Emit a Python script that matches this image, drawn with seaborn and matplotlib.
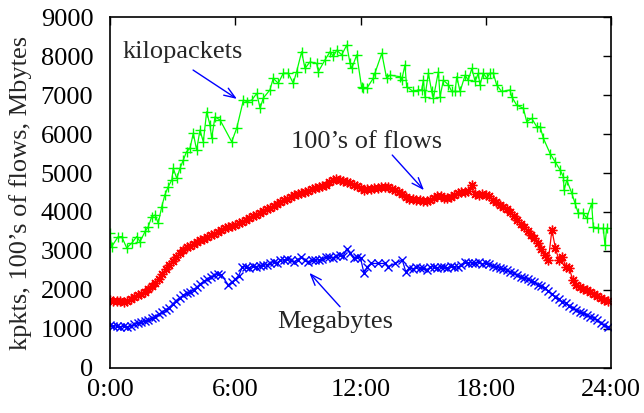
import numpy as np
import pandas as pd
import matplotlib
matplotlib.use("Agg")
import matplotlib.pyplot as plt
import seaborn as sns

# ---------------- data ----------------
# kilopackets (green, '+')
kpkt_hours = [0.00, 0.08, 0.38, 0.56, 0.80, 1.04, 1.28, 1.44, 1.68, 1.83,
              2.00, 2.16, 2.31, 2.48, 2.63, 2.79, 2.96, 3.03, 3.20, 3.35,
              3.51, 3.67, 3.83, 3.99, 4.15, 4.31, 4.47, 4.63, 4.79, 4.87,
              5.03, 5.27, 5.83, 6.07, 6.39, 6.55, 6.79, 7.03, 7.19, 7.34,
              7.66, 7.82, 8.06, 8.30, 8.54, 8.78, 8.94, 9.18, 9.34, 9.58,
              9.90, 9.98, 10.30, 10.54, 10.70, 10.86, 11.10, 11.34, 11.50, 11.58,
              11.82, 12.05, 12.13, 12.30, 12.61, 12.69, 13.02, 13.25, 13.41, 13.89,
              13.97, 14.13, 14.21, 14.53, 14.77, 14.93, 15.01, 15.09, 15.25, 15.41,
              15.49, 15.73, 15.81, 15.97, 16.21, 16.37, 16.53, 16.61, 16.77, 17.01,
              17.16, 17.33, 17.49, 17.64, 17.72, 17.88, 18.05, 18.20, 18.36, 18.52,
              18.76, 19.16, 19.24, 19.48, 19.80, 19.96, 20.20, 20.44, 20.60, 20.76,
              21.08, 21.32, 21.56, 21.72, 21.75, 21.88, 22.12, 22.28, 22.43, 22.67,
              22.83, 23.07, 23.15, 23.39, 23.63, 23.71, 23.79]
kpkt_values = [3460, 3110, 3360, 3370, 3080, 3200, 3370, 3240, 3500, 3620,
               3880, 3920, 3710, 4140, 4440, 4650, 4820, 5120, 4860, 5120,
               5330, 5550, 5630, 6020, 5590, 6100, 5800, 6570, 6230, 5890,
               6440, 6360, 5800, 6150, 6870, 6830, 6870, 7040, 6660, 6920,
               7130, 7430, 7300, 7560, 7560, 7300, 7600, 8110, 7680, 7850,
               7810, 7600, 7900, 8110, 7990, 8150, 8030, 8280, 7810, 7680,
               8030, 7210, 7170, 7170, 7430, 7560, 8070, 7430, 7510, 7470,
               7380, 7770, 7210, 7090, 7130, 7130, 7380, 6960, 7560, 7090,
               6920, 7600, 6960, 7380, 7260, 7090, 7090, 7470, 7090, 7510,
               7380, 7680, 7350, 7560, 7260, 7560, 7430, 7560, 7560, 7260,
               7090, 7130, 6960, 6740, 6660, 6320, 6400, 6190, 6190, 5890,
               5500, 5290, 5080, 4900, 4560, 4820, 4480, 4220, 3970, 3970,
               3840, 4220, 3620, 3580, 3580, 3150, 3580]

# 10-minute sampling for flows and megabytes
grid_hours = [h + m / 6 for h in range(24) for m in range(6)]

# 100's of flows (red, '*')
flow_values = [1740, 1720, 1710, 1730, 1700, 1720,
               1770, 1820, 1860, 1900, 1960, 2020,
               2100, 2170, 2290, 2410, 2530, 2640,
               2740, 2840, 2940, 3030, 3090, 3140,
               3180, 3220, 3270, 3320, 3360, 3400,
               3440, 3490, 3530, 3580, 3610, 3640,
               3670, 3710, 3750, 3790, 3840, 3890,
               3930, 3980, 4020, 4070, 4110, 4160,
               4210, 4250, 4300, 4340, 4390, 4430,
               4460, 4490, 4520, 4550, 4580, 4610,
               4640, 4660, 4700, 4760, 4820, 4850,
               4820, 4790, 4770, 4740, 4700, 4660,
               4610, 4570, 4580, 4600, 4610, 4620,
               4640, 4630, 4650, 4600, 4560, 4510,
               4450, 4390, 4340, 4330, 4310, 4300,
               4290, 4270, 4300, 4360, 4420, 4420,
               4370, 4350, 4390, 4430, 4480, 4500,
               4510, 4530, 4680, 4470, 4440, 4450,
               4440, 4400, 4320, 4250, 4180, 4120,
               4070, 3990, 3890, 3800, 3700, 3610,
               3520, 3420, 3340, 3210, 3050, 2900,
               2770, 3540, 3080, 2770, 2850, 2600,
               2570, 2250, 2120, 2070, 2030, 1990,
               1940, 1900, 1850, 1800, 1750, 1710]

# Megabytes (blue, 'x'); NaN = missing sample
nan = np.nan
mbyte_values = [1100, 1070, 1080, 1060, 1070, 1050,
                1080, 1120, 1150, 1170, 1200, 1230,
                1270, 1320, 1380, 1430, 1490, 1550,
                1640, 1730, 1800, 1860, 1910, 1960,
                2010, 2080, 2160, 2220, 2280, 2330,
                2380, 2420, 2390, nan, 2130, 2200,
                2280, 2370, 2580, 2600, 2570, 2620,
                2600, 2620, 2650, 2640, 2690, 2730,
                2700, 2760, 2770, 2790, 2760, 2730,
                2780, 2850, 2760, 2730, 2760, 2770,
                2770, 2800, 2840, 2850, 2820, 2880,
                2900, 2870, 3050, 2950, 2810, 2850,
                2820, 2430, 2600, 2680, nan, 2680,
                nan, 2680, 2600, nan, 2680, nan,
                2770, 2470, 2560, 2540, 2580, 2560,
                2560, 2520, 2580, 2600, 2570, 2600,
                2600, 2560, 2620, 2600, 2580, 2640,
                2730, 2690, 2700, 2680, 2720, 2670,
                2680, 2660, 2620, 2600, 2560, 2540,
                2510, 2470, 2430, 2390, 2340, 2300,
                2280, 2240, 2210, 2140, 2090, 2040,
                1970, 1900, 1830, 1760, 1690, 1660,
                1600, 1530, 1490, 1440, 1400, 1360,
                1320, 1270, 1230, 1160, 1100, 1050]

x_ticks = [0, 6, 12, 18, 24]
x_tick_labels = ["0:00", "6:00", "12:00", "18:00", "24:00"]
y_ticks = [0, 1000, 2000, 3000, 4000, 5000, 6000, 7000, 8000, 9000]

# ---------------- plot ----------------
sns.set_style("white")
plt.rcParams["font.family"] = ["Liberation Serif", "DejaVu Serif"]

FS = 19
fig = plt.figure(figsize=(6.44, 4.13), dpi=100)
ax = fig.add_axes([0.1708, 0.1090, 0.7780, 0.8498])

kp = pd.DataFrame({"h": kpkt_hours, "v": kpkt_values})
fl = pd.DataFrame({"h": grid_hours, "v": flow_values}).dropna()
mb = pd.DataFrame({"h": grid_hours, "v": mbyte_values}).dropna()

sns.lineplot(data=kp, x="h", y="v", ax=ax, color="#00ff00", linewidth=0.9,
             marker="+", markersize=7, mec="#00ff00", mew=1.0, sort=False)
sns.lineplot(data=fl, x="h", y="v", ax=ax, color="#ff0000", linewidth=0.9,
             marker=(8, 2, 0), markersize=7, mec="#ff0000", mew=1.0, sort=False)
sns.lineplot(data=mb, x="h", y="v", ax=ax, color="#0000ff", linewidth=0.9,
             marker="x", markersize=6, mec="#0000ff", mew=1.0, sort=False)

ax.set_xlim(0, 24)
ax.set_ylim(0, 9000)
ax.set_xticks(x_ticks)
ax.set_xticklabels(x_tick_labels)
ax.set_yticks(y_ticks)
ax.set_xlabel("")
ax.set_ylabel("kpkts, 100\u2019s of flows, Mbytes", fontsize=FS, labelpad=6)
ax.tick_params(direction="in", length=6, width=1, top=True, right=True,
               labelsize=FS, colors="black")
ax.tick_params(axis="y", pad=12)
ax.tick_params(axis="x", pad=8)
for s in ax.spines.values():
    s.set_visible(True)
    s.set_color("black")
    s.set_linewidth(1.2)

arrow = dict(arrowstyle="->,head_length=0.8,head_width=0.3", color="#0000ff",
             lw=1.0, shrinkA=0, shrinkB=0)
ax.annotate("kilopackets", xy=(6.08, 6900), xytext=(3.5, 8100),
            fontsize=FS, ha="center", va="center")
ax.annotate("", xy=(6.08, 6900), xytext=(3.98, 7640), arrowprops=arrow)
ax.annotate("100\u2019s of flows", xy=(15.04, 4560), xytext=(12.27, 5800),
            fontsize=FS, ha="center", va="center")
ax.annotate("", xy=(15.04, 4560), xytext=(13.52, 5460), arrowprops=arrow)
ax.annotate("Megabytes", xy=(9.55, 2440), xytext=(10.80, 1190),
            fontsize=FS, ha="center", va="center")
ax.annotate("", xy=(9.55, 2440), xytext=(11.02, 1570), arrowprops=arrow)

fig.savefig("out.png", dpi=100)
